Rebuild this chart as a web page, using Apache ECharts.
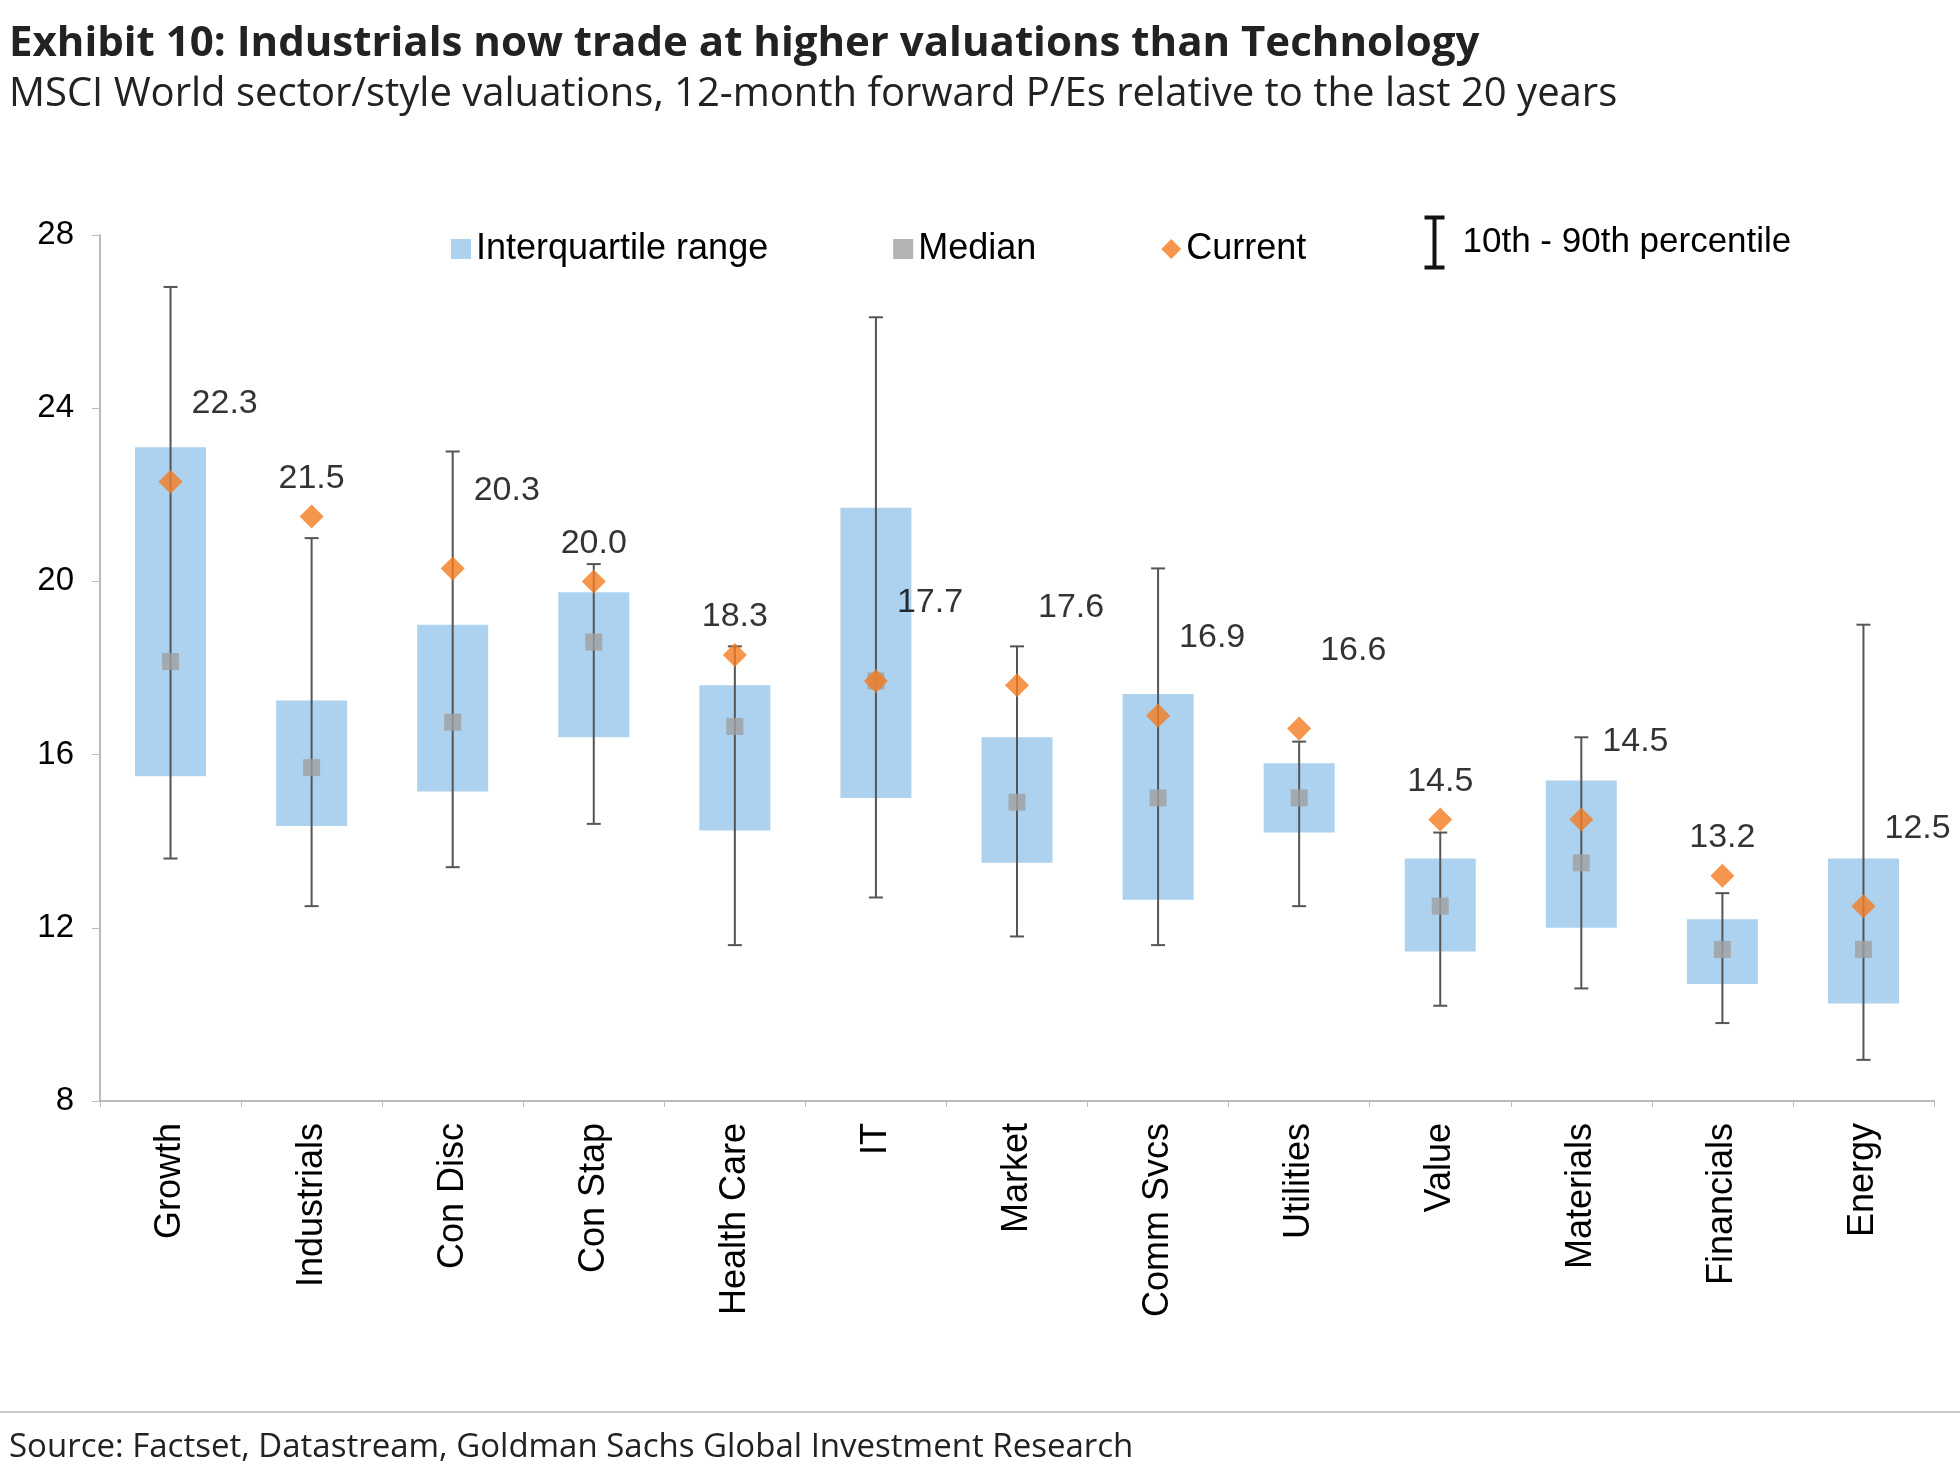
<!DOCTYPE html>
<html>
<head>
<meta charset="utf-8">
<script src="https://cdn.jsdelivr.net/npm/echarts@6/dist/echarts.min.js"></script>
<style>
html, body { margin: 0; padding: 0; background: #fff; }
#chart { width: 1960px; height: 1475px; }
</style>
</head>
<body>
<div id="chart"></div>
<script>
var categories = ['Growth', 'Industrials', 'Con Disc', 'Con Stap', 'Health Care', 'IT', 'Market', 'Comm Svcs', 'Utilities', 'Value', 'Materials', 'Financials', 'Energy'];
var p10 = [13.6, 12.5, 13.4, 14.4, 11.6, 12.7, 11.8, 11.6, 12.5, 10.2, 10.6, 9.8, 8.95];
var p90 = [26.8, 21.0, 23.0, 20.4, 18.5, 26.1, 18.5, 20.3, 16.3, 14.2, 16.4, 12.8, 19.0];
var q1 = [15.5, 14.35, 15.15, 16.4, 14.25, 15.0, 13.5, 12.65, 14.2, 11.45, 12.0, 10.7, 10.25];
var q3 = [23.1, 17.25, 19.0, 19.75, 17.6, 21.7, 16.4, 17.4, 15.8, 13.6, 15.4, 12.2, 13.6];
var median = [18.15, 15.7, 16.75, 18.6, 16.65, 17.7, 14.9, 15.0, 15.0, 12.5, 13.5, 11.5, 11.5];
var current = [22.3, 21.5, 20.3, 20.0, 18.3, 17.7, 17.6, 16.9, 16.6, 14.5, 14.5, 13.2, 12.5];
var labelPos = ['r', 't', 'r', 't', 't', 'r', 'r', 'r', 'r', 't', 'r', 't', 'r'];

var font = 'Liberation Sans, Arial, sans-serif';
var chart = echarts.init(document.getElementById('chart'));

var iqrData = q1.map(function (v, i) { return q3[i] - v; });
var currentData = current.map(function (v, i) {
  var top = labelPos[i] === 't';
  return {
    value: v,
    label: {
      position: top ? 'top' : 'right',
      offset: top ? [0, -4] : [4, -78]
    }
  };
});

chart.setOption({
  animation: false,
  title: [{
    text: 'Exhibit 10: Industrials now trade at higher valuations than Technology',
    left: 4, top: 18,
    textStyle: { fontFamily: 'Open Sans', fontWeight: 'bold', fontSize: 42, color: '#222' }
  }, {
    text: 'MSCI World sector/style valuations, 12-month forward P/Es relative to the last 20 years',
    left: 4, top: 70,
    textStyle: { fontFamily: 'Open Sans', fontWeight: 'normal', fontSize: 40, color: '#222' }
  }, {
    text: 'Source: Factset, Datastream, Goldman Sachs Global Investment Research',
    left: 4, top: 1426,
    textStyle: { fontFamily: 'Open Sans', fontWeight: 'normal', fontSize: 33, color: '#222' }
  }],
  graphic: [{
    type: 'line', shape: { x1: 0, y1: 1412, x2: 1960, y2: 1412 },
    style: { stroke: '#ccc', lineWidth: 2 }
  }, {
    type: 'group', left: 1422, top: 215,
    children: [
      { type: 'line', shape: { x1: 16, y1: 0, x2: 16, y2: 50 }, style: { stroke: '#111', lineWidth: 4 } },
      { type: 'line', shape: { x1: 6, y1: 0, x2: 26, y2: 0 }, style: { stroke: '#111', lineWidth: 4 } },
      { type: 'line', shape: { x1: 6, y1: 50, x2: 26, y2: 50 }, style: { stroke: '#111', lineWidth: 4 } },
      { type: 'text', x: 44, y: 7, style: { text: '10th - 90th percentile', font: '35px ' + font, fill: '#000' } }
    ]
  }],
  legend: {
    left: 446, top: 226, itemGap: 125, itemWidth: 20, itemHeight: 20,
    textStyle: { fontFamily: font, fontSize: 36, color: '#000' },
    data: [
      { name: 'Interquartile range', icon: 'rect' },
      { name: 'Median', icon: 'rect' },
      { name: 'Current', icon: 'diamond' }
    ]
  },
  grid: { left: 100, right: 26, top: 235, bottom: 374 },
  xAxis: {
    type: 'category', data: categories,
    axisLine: { lineStyle: { color: '#bbb', width: 2 } },
    axisTick: { show: true, length: 6, lineStyle: { color: '#bbb' } },
    axisLabel: { rotate: 90, fontFamily: font, fontSize: 36, color: '#000', margin: 22 }
  },
  yAxis: {
    type: 'value', min: 8, max: 28, interval: 4,
    splitLine: { show: false },
    axisLine: { show: true, lineStyle: { color: '#bbb', width: 2 } },
    axisTick: { show: true, length: 8, lineStyle: { color: '#bbb' } },
    axisLabel: { fontFamily: font, fontSize: 33, color: '#000', margin: 26 }
  },
  series: [{
    name: 'base', type: 'bar', stack: 'box', data: q1, barWidth: 71,
    itemStyle: { color: 'transparent' }, silent: true
  }, {
    name: 'Interquartile range', type: 'bar', stack: 'box', data: iqrData, barWidth: 71,
    itemStyle: { color: '#acd2ef' }
  }, {
    name: 'whisker', type: 'custom', z: 5,
    data: categories.map(function (c, i) { return [i, p10[i], p90[i]]; }),
    renderItem: function (params, api) {
      var lo = api.coord([api.value(0), api.value(1)]);
      var hi = api.coord([api.value(0), api.value(2)]);
      var st = { stroke: '#555', lineWidth: 2 };
      return {
        type: 'group', children: [
          { type: 'line', shape: { x1: lo[0], y1: lo[1], x2: hi[0], y2: hi[1] }, style: st },
          { type: 'line', shape: { x1: lo[0] - 7, y1: lo[1], x2: lo[0] + 7, y2: lo[1] }, style: st },
          { type: 'line', shape: { x1: hi[0] - 7, y1: hi[1], x2: hi[0] + 7, y2: hi[1] }, style: st }
        ]
      };
    }
  }, {
    name: 'Median', type: 'scatter', data: median, z: 6,
    symbol: 'rect', symbolSize: 17, itemStyle: { color: '#a0a0a0' }
  }, {
    name: 'Current', type: 'scatter', data: currentData, z: 7,
    symbol: 'rect', symbolSize: 17, symbolRotate: 45, itemStyle: { color: '#f47c20' },
    label: {
      show: true, fontFamily: font, fontSize: 34, color: '#000',
      formatter: function (p) { return p.value.toFixed(1); }
    }
  }]
});
</script>
</body>
</html>
